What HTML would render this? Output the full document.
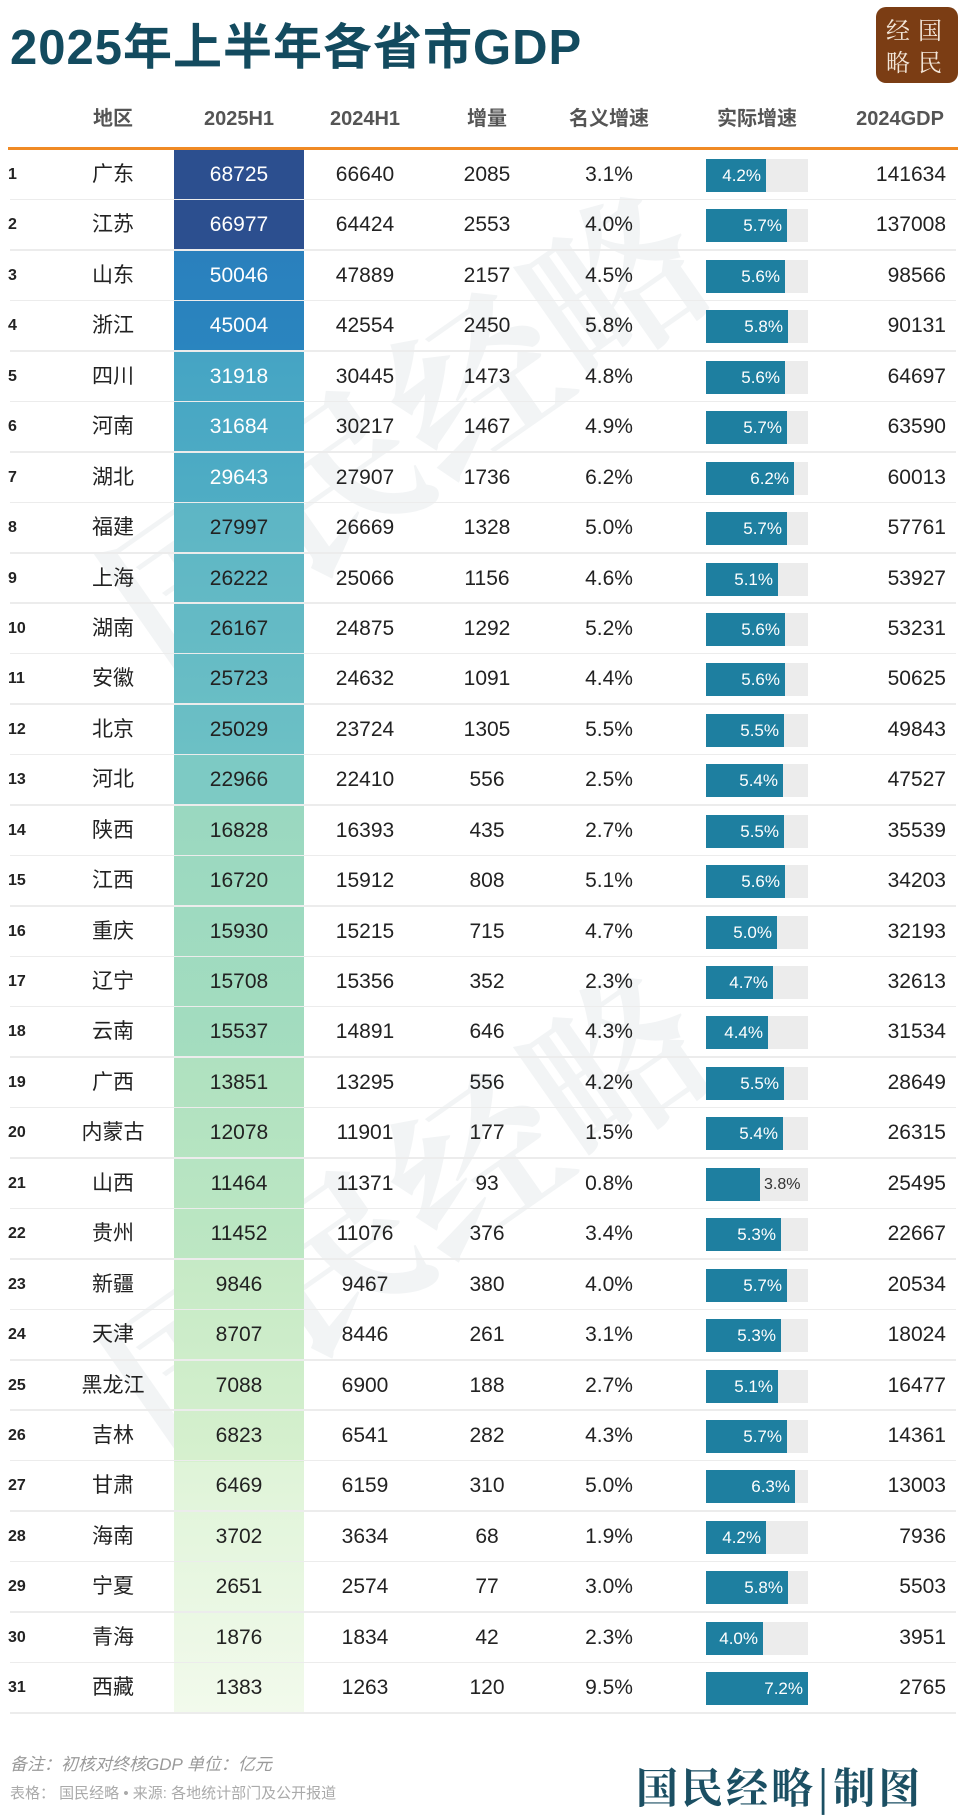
<!DOCTYPE html>
<html><head><meta charset="utf-8">
<style>
*{margin:0;padding:0;box-sizing:border-box}
body{width:960px;height:1814px;background:#fff;position:relative;overflow:hidden;font-family:"Liberation Sans","Noto Sans CJK SC",sans-serif;color:#222}
.t{position:absolute;left:10px;top:18px;font-size:49px;line-height:60px;font-weight:bold;color:#134b5f;letter-spacing:1px}
.logo{position:absolute;left:876px;top:7px;width:82px;height:76px;background:#7b3d14;border-radius:10px;color:#f3e6d8;font-family:"Noto Serif CJK SC",serif;font-size:24px;line-height:32px;padding:6px 0 0 10px;letter-spacing:8px}
.h{position:absolute;top:104px;height:30px;line-height:30px;font-size:20px;font-weight:bold;color:#555;transform:translateX(-50%);white-space:nowrap}
.ol{position:absolute;left:8px;top:147px;width:950px;height:3px;background:#f08a24}
.col{position:absolute;left:174px;width:130px;top:150px;height:1563px}
.rows{position:absolute;left:0;top:150px;width:960px}
.r{position:relative;height:50.45px;font-size:21px}
.r::after{content:"";position:absolute;left:10px;right:4px;bottom:0;height:1.5px;background:#ececec}
.r>span{position:absolute;top:0;height:50px;line-height:50px;transform:translateX(-50%);white-space:nowrap}
.r>.k{left:8px;transform:none;font-size:16px;font-weight:bold}
.r>.a{left:113px}
.r>.b{left:239px}
.r>.c{left:365px}
.r>.d{left:487px}
.r>.e{left:609px}
.r>.g{right:14px;left:auto;transform:none}
.bg{position:absolute;left:706px;top:9px;width:102px;height:33px;background:#ececec}
.bar{position:absolute;left:0;top:0;height:33px;background:#1e7fa0;color:#fff;font-size:17px;line-height:33px;text-align:right;padding-right:5px}
.out{position:absolute;top:0;font-size:16px;line-height:33px;color:#333}
.wm{position:absolute;font-size:170px;font-weight:bold;color:rgba(190,198,204,0.2);transform:rotate(-35deg);white-space:nowrap;font-family:"Noto Serif CJK SC",serif}
.n1{position:absolute;left:10px;top:1750px;font-size:17px;color:#9a9a9a;font-style:italic}
.n2{position:absolute;left:10px;top:1782px;font-size:15px;color:#aaa}
.sig{position:absolute;left:636px;top:1756px;font-size:42px;font-weight:bold;color:#1b4f63;font-family:"Noto Serif CJK SC",serif;letter-spacing:3px}
</style></head><body>
<div class="wm" style="left:60px;top:300px">国民经略</div>
<div class="wm" style="left:60px;top:1080px">国民经略</div>
<div class="t">2025年上半年各省市GDP</div>
<div class="logo">经国<br>略民</div>
<div class="h" style="left:113px">地区</div>
<div class="h" style="left:239px">2025H1</div>
<div class="h" style="left:365px">2024H1</div>
<div class="h" style="left:487px">增量</div>
<div class="h" style="left:609px">名义增速</div>
<div class="h" style="left:757px">实际增速</div>
<div class="h" style="left:900px">2024GDP</div>
<div class="ol"></div>
<div class="col" style="background:linear-gradient(to bottom,#2c4f8f 0,#2c4f8f 100px,#2a80bd 100px,#2a85bf 202px,#45a4c4 202px,#4fadc4 353px,#5db5c5 353px,#6cc0c5 605px,#7dcac4 605px,#7dcac4 655px,#9ad8c0 655px,#a4ddbf 908px,#afe1c0 908px,#bde7c3 1110px,#c6eac6 1110px,#d6f0ce 1312px,#dff4d8 1312px,#f2faec 1563px)"></div>
<div class="rows">
<div class="r"><span class="k">1</span><span class="a">广东</span><span class="b" style="color:#fff">68725</span><span class="c">66640</span><span class="d">2085</span><span class="e">3.1%</span><div class="bg"><div class="bar" style="width:60px">4.2%</div></div><span class="g">141634</span></div>
<div class="r"><span class="k">2</span><span class="a">江苏</span><span class="b" style="color:#fff">66977</span><span class="c">64424</span><span class="d">2553</span><span class="e">4.0%</span><div class="bg"><div class="bar" style="width:81px">5.7%</div></div><span class="g">137008</span></div>
<div class="r"><span class="k">3</span><span class="a">山东</span><span class="b" style="color:#fff">50046</span><span class="c">47889</span><span class="d">2157</span><span class="e">4.5%</span><div class="bg"><div class="bar" style="width:79px">5.6%</div></div><span class="g">98566</span></div>
<div class="r"><span class="k">4</span><span class="a">浙江</span><span class="b" style="color:#fff">45004</span><span class="c">42554</span><span class="d">2450</span><span class="e">5.8%</span><div class="bg"><div class="bar" style="width:82px">5.8%</div></div><span class="g">90131</span></div>
<div class="r"><span class="k">5</span><span class="a">四川</span><span class="b" style="color:#fff">31918</span><span class="c">30445</span><span class="d">1473</span><span class="e">4.8%</span><div class="bg"><div class="bar" style="width:79px">5.6%</div></div><span class="g">64697</span></div>
<div class="r"><span class="k">6</span><span class="a">河南</span><span class="b" style="color:#fff">31684</span><span class="c">30217</span><span class="d">1467</span><span class="e">4.9%</span><div class="bg"><div class="bar" style="width:81px">5.7%</div></div><span class="g">63590</span></div>
<div class="r"><span class="k">7</span><span class="a">湖北</span><span class="b" style="color:#fff">29643</span><span class="c">27907</span><span class="d">1736</span><span class="e">6.2%</span><div class="bg"><div class="bar" style="width:88px">6.2%</div></div><span class="g">60013</span></div>
<div class="r"><span class="k">8</span><span class="a">福建</span><span class="b">27997</span><span class="c">26669</span><span class="d">1328</span><span class="e">5.0%</span><div class="bg"><div class="bar" style="width:81px">5.7%</div></div><span class="g">57761</span></div>
<div class="r"><span class="k">9</span><span class="a">上海</span><span class="b">26222</span><span class="c">25066</span><span class="d">1156</span><span class="e">4.6%</span><div class="bg"><div class="bar" style="width:72px">5.1%</div></div><span class="g">53927</span></div>
<div class="r"><span class="k">10</span><span class="a">湖南</span><span class="b">26167</span><span class="c">24875</span><span class="d">1292</span><span class="e">5.2%</span><div class="bg"><div class="bar" style="width:79px">5.6%</div></div><span class="g">53231</span></div>
<div class="r"><span class="k">11</span><span class="a">安徽</span><span class="b">25723</span><span class="c">24632</span><span class="d">1091</span><span class="e">4.4%</span><div class="bg"><div class="bar" style="width:79px">5.6%</div></div><span class="g">50625</span></div>
<div class="r"><span class="k">12</span><span class="a">北京</span><span class="b">25029</span><span class="c">23724</span><span class="d">1305</span><span class="e">5.5%</span><div class="bg"><div class="bar" style="width:78px">5.5%</div></div><span class="g">49843</span></div>
<div class="r"><span class="k">13</span><span class="a">河北</span><span class="b">22966</span><span class="c">22410</span><span class="d">556</span><span class="e">2.5%</span><div class="bg"><div class="bar" style="width:77px">5.4%</div></div><span class="g">47527</span></div>
<div class="r"><span class="k">14</span><span class="a">陕西</span><span class="b">16828</span><span class="c">16393</span><span class="d">435</span><span class="e">2.7%</span><div class="bg"><div class="bar" style="width:78px">5.5%</div></div><span class="g">35539</span></div>
<div class="r"><span class="k">15</span><span class="a">江西</span><span class="b">16720</span><span class="c">15912</span><span class="d">808</span><span class="e">5.1%</span><div class="bg"><div class="bar" style="width:79px">5.6%</div></div><span class="g">34203</span></div>
<div class="r"><span class="k">16</span><span class="a">重庆</span><span class="b">15930</span><span class="c">15215</span><span class="d">715</span><span class="e">4.7%</span><div class="bg"><div class="bar" style="width:71px">5.0%</div></div><span class="g">32193</span></div>
<div class="r"><span class="k">17</span><span class="a">辽宁</span><span class="b">15708</span><span class="c">15356</span><span class="d">352</span><span class="e">2.3%</span><div class="bg"><div class="bar" style="width:67px">4.7%</div></div><span class="g">32613</span></div>
<div class="r"><span class="k">18</span><span class="a">云南</span><span class="b">15537</span><span class="c">14891</span><span class="d">646</span><span class="e">4.3%</span><div class="bg"><div class="bar" style="width:62px">4.4%</div></div><span class="g">31534</span></div>
<div class="r"><span class="k">19</span><span class="a">广西</span><span class="b">13851</span><span class="c">13295</span><span class="d">556</span><span class="e">4.2%</span><div class="bg"><div class="bar" style="width:78px">5.5%</div></div><span class="g">28649</span></div>
<div class="r"><span class="k">20</span><span class="a">内蒙古</span><span class="b">12078</span><span class="c">11901</span><span class="d">177</span><span class="e">1.5%</span><div class="bg"><div class="bar" style="width:77px">5.4%</div></div><span class="g">26315</span></div>
<div class="r"><span class="k">21</span><span class="a">山西</span><span class="b">11464</span><span class="c">11371</span><span class="d">93</span><span class="e">0.8%</span><div class="bg"><div class="bar" style="width:54px"></div><div class="out" style="left:58px">3.8%</div></div><span class="g">25495</span></div>
<div class="r"><span class="k">22</span><span class="a">贵州</span><span class="b">11452</span><span class="c">11076</span><span class="d">376</span><span class="e">3.4%</span><div class="bg"><div class="bar" style="width:75px">5.3%</div></div><span class="g">22667</span></div>
<div class="r"><span class="k">23</span><span class="a">新疆</span><span class="b">9846</span><span class="c">9467</span><span class="d">380</span><span class="e">4.0%</span><div class="bg"><div class="bar" style="width:81px">5.7%</div></div><span class="g">20534</span></div>
<div class="r"><span class="k">24</span><span class="a">天津</span><span class="b">8707</span><span class="c">8446</span><span class="d">261</span><span class="e">3.1%</span><div class="bg"><div class="bar" style="width:75px">5.3%</div></div><span class="g">18024</span></div>
<div class="r"><span class="k">25</span><span class="a">黑龙江</span><span class="b">7088</span><span class="c">6900</span><span class="d">188</span><span class="e">2.7%</span><div class="bg"><div class="bar" style="width:72px">5.1%</div></div><span class="g">16477</span></div>
<div class="r"><span class="k">26</span><span class="a">吉林</span><span class="b">6823</span><span class="c">6541</span><span class="d">282</span><span class="e">4.3%</span><div class="bg"><div class="bar" style="width:81px">5.7%</div></div><span class="g">14361</span></div>
<div class="r"><span class="k">27</span><span class="a">甘肃</span><span class="b">6469</span><span class="c">6159</span><span class="d">310</span><span class="e">5.0%</span><div class="bg"><div class="bar" style="width:89px">6.3%</div></div><span class="g">13003</span></div>
<div class="r"><span class="k">28</span><span class="a">海南</span><span class="b">3702</span><span class="c">3634</span><span class="d">68</span><span class="e">1.9%</span><div class="bg"><div class="bar" style="width:60px">4.2%</div></div><span class="g">7936</span></div>
<div class="r"><span class="k">29</span><span class="a">宁夏</span><span class="b">2651</span><span class="c">2574</span><span class="d">77</span><span class="e">3.0%</span><div class="bg"><div class="bar" style="width:82px">5.8%</div></div><span class="g">5503</span></div>
<div class="r"><span class="k">30</span><span class="a">青海</span><span class="b">1876</span><span class="c">1834</span><span class="d">42</span><span class="e">2.3%</span><div class="bg"><div class="bar" style="width:57px">4.0%</div></div><span class="g">3951</span></div>
<div class="r"><span class="k">31</span><span class="a">西藏</span><span class="b">1383</span><span class="c">1263</span><span class="d">120</span><span class="e">9.5%</span><div class="bg"><div class="bar" style="width:102px">7.2%</div></div><span class="g">2765</span></div>
</div>
<div class="n1">备注：初核对终核GDP 单位：亿元</div>
<div class="n2">表格： 国民经略 • 来源: 各地统计部门及公开报道</div>
<div class="sig">国民经略|制图</div>
</body></html>
